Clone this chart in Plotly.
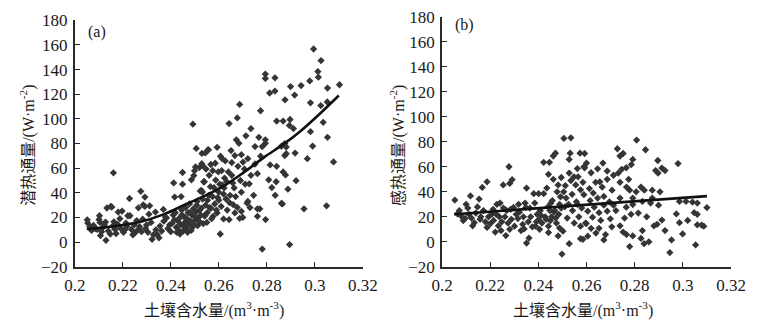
import plotly.graph_objects as go

# ---- panel (a): latent heat flux vs soil water content ----
a_x = [0.2052, 0.2054, 0.2063, 0.2070, 0.2078, 0.2085, 0.2093, 0.2101, 0.2103, 0.2105,
       0.2107, 0.2112, 0.2118, 0.2123, 0.2128, 0.2130, 0.2134, 0.2140, 0.2148, 0.2150,
       0.2154, 0.2158, 0.2161, 0.2163, 0.2168, 0.2172, 0.2178, 0.2181, 0.2188, 0.2192,
       0.2197, 0.2203, 0.2208, 0.2213, 0.2217, 0.2221, 0.2228, 0.2230, 0.2236, 0.2242,
       0.2248, 0.2252, 0.2258, 0.2265, 0.2265, 0.2270, 0.2275, 0.2278, 0.2283, 0.2285,
       0.2292, 0.2292, 0.2295, 0.2299, 0.2305, 0.2309, 0.2312, 0.2318, 0.2322, 0.2328,
       0.2336, 0.2338, 0.2344, 0.2351, 0.2355, 0.2362, 0.2369, 0.2371, 0.2378, 0.2382,
       0.2388, 0.2395, 0.2400, 0.2405, 0.2410, 0.2412, 0.2416, 0.2419, 0.2423, 0.2428,
       0.2432, 0.2436, 0.2440, 0.2443, 0.2445, 0.2449, 0.2449, 0.2452, 0.2455, 0.2458,
       0.2462, 0.2465, 0.2468, 0.2472, 0.2475, 0.2478, 0.2482, 0.2486, 0.2488, 0.2490,
       0.2492, 0.2494, 0.2496, 0.2499, 0.2500, 0.2503, 0.2505, 0.2506, 0.2508, 0.2512,
       0.2515, 0.2519, 0.2520, 0.2523, 0.2527, 0.2527, 0.2529, 0.2530, 0.2532, 0.2533,
       0.2533, 0.2537, 0.2540, 0.2540, 0.2543, 0.2544, 0.2547, 0.2550, 0.2553, 0.2555,
       0.2557, 0.2560, 0.2562, 0.2567, 0.2567, 0.2570, 0.2574, 0.2576, 0.2580, 0.2583,
       0.2587, 0.2590, 0.2593, 0.2593, 0.2596, 0.2600, 0.2600, 0.2604, 0.2606, 0.2607,
       0.2610, 0.2614, 0.2614, 0.2620, 0.2620, 0.2624, 0.2627, 0.2630, 0.2633, 0.2640,
       0.2643, 0.2643, 0.2647, 0.2651, 0.2654, 0.2654, 0.2660, 0.2664, 0.2667, 0.2667,
       0.2673, 0.2677, 0.2677, 0.2680, 0.2684, 0.2687, 0.2687, 0.2690, 0.2694, 0.2694,
       0.2694, 0.2701, 0.2707, 0.2713, 0.2718, 0.2721, 0.2721, 0.2727, 0.2734, 0.2734,
       0.2745, 0.2751, 0.2751, 0.2761, 0.2761, 0.2761, 0.2767, 0.2771, 0.2774, 0.2774,
       0.2781, 0.2781, 0.2794, 0.2794, 0.2794, 0.2794, 0.2795, 0.2808, 0.2812, 0.2814,
       0.2821, 0.2834, 0.2834, 0.2835, 0.2839, 0.2841, 0.2841, 0.2861, 0.2861, 0.2865,
       0.2868, 0.2868, 0.2875, 0.2875, 0.2876, 0.2878, 0.2881, 0.2881, 0.2888, 0.2894,
       0.2895, 0.2897, 0.2899, 0.2911, 0.2916, 0.2918, 0.2922, 0.2943, 0.2955, 0.2969,
       0.2979, 0.2982, 0.2982, 0.2991, 0.2995, 0.3013, 0.3015, 0.3025, 0.3026, 0.3035,
       0.3049, 0.3052, 0.3053, 0.3053, 0.3078, 0.3103,
       0.2415, 0.2425, 0.2438, 0.2446, 0.2452, 0.2460, 0.2470, 0.2480, 0.2485, 0.2495,
       0.2502, 0.2510, 0.2518, 0.2525, 0.2535, 0.2545, 0.2552, 0.2558, 0.2565, 0.2575,
       0.2585, 0.2598, 0.2612, 0.2622, 0.2635, 0.2645, 0.2658, 0.2670, 0.2700, 0.2710,
       0.2730]
a_y = [18.1, 15.5, 12.5, 9.5, 13.5, 11.0, 10.3, 18.3, 21.4, 16.0,
       5.3, 8.5, 12.0, 14.0, 16.3, 1.5, 27.7, 9.0, 6.5, 29.0,
       28.5, 13.0, 56.2, 16.5, 10.3, 7.0, 14.5, 24.4, 19.0, 11.0,
       25.2, 8.0, 9.9, 15.5, 12.7, 21.4, 35.4, 21.4, 10.3, 6.0,
       14.0, 7.8, 17.5, 27.8, 10.3, 12.5, 41.2, 8.5, 18.6, 30.3,
       36.6, 29.0, 11.0, 14.0, 8.0, 22.7, 29.5, 16.0, 2.3, 6.0,
       24.4, 10.0, 6.0, 3.5, 13.0, 9.0, 26.5, 17.0, 20.3, 19.6,
       11.0, 14.0, 8.5, 15.2, 22.0, 48.0, 36.6, 23.9, 12.0, 17.5,
       10.0, 19.5, 14.5, 37.0, 26.0, 56.5, 47.0, 21.0, 12.5, 16.0,
       28.0, 10.5, 19.0, 24.0, 14.0, 31.0, 17.0, 50.6, 22.0, 12.0,
       95.7, 27.0, 54.0, 58.0, 17.5, 61.0, 24.5, 76.0, 30.0, 13.5,
       20.0, 60.5, 26.0, 41.4, 42.0, 27.5, 63.7, 72.0, 40.6, 35.0,
       62.0, 49.0, 21.4, 49.0, 21.6, 72.4, 59.3, 16.0, 34.0, 75.0,
       74.8, 54.2, 28.0, 63.0, 27.5, 19.0, 37.0, 20.9, 44.3, 31.0,
       50.4, 26.0, 76.9, 23.7, 36.0, 40.5, 34.0, 47.0, 6.6, 69.7,
       29.0, 67.7, 46.5, 39.0, 18.8, 52.0, 65.9, 35.0, 49.0, 57.0,
       96.2, 18.3, 38.0, 74.3, 64.6, 54.2, 30.4, 44.0, 70.2, 23.7,
       83.0, 100.8, 28.2, 61.5, 80.2, 111.7, 19.3, 50.0, 71.0, 40.5,
       25.0, 65.0, 59.3, 86.3, 31.6, 67.7, 33.0, 47.3, 92.1, 54.2,
       38.0, 77.5, 63.4, 55.5, 27.0, 20.9, 85.0, 27.0, 106.6, 69.7,
       77.5, -5.6, 136.4, 132.8, 83.0, 80.2, 18.3, 50.6, 121.0, 62.6,
       44.3, 133.3, 122.6, 38.0, 49.0, 98.2, 61.5, 77.8, 31.5, 31.0,
       98.2, 57.0, 80.0, 70.2, 115.5, 54.5, 77.2, 71.8, 43.0, 94.7,
       -2.0, 99.5, 126.2, 92.1, 119.3, 72.3, 49.9, 127.0, 27.0, 67.7,
       130.8, 113.0, 89.6, 77.9, 156.7, 138.4, 133.8, 110.8, 147.3, 97.2,
       29.5, 113.7, 125.0, 85.0, 65.1, 127.7,
       18.0, 8.0, 6.5, 22.0, 9.0, 20.0, 8.0, 24.0, 9.5, 14.0,
       20.0, 33.0, 17.0, 22.0, 15.0, 30.0, 24.0, 38.0, 45.0, 58.0,
       64.0, 57.0, 58.0, 44.0, 26.0, 32.0, 48.0, 37.0, 20.0, 47.0,
       28.0]

# trend curve for panel (a)
a_fit_x = [0.205, 0.215, 0.227, 0.237, 0.246, 0.254, 0.262, 0.270, 0.279, 0.287, 0.294, 0.302, 0.310]
a_fit_y = [10.7, 12.5, 16.3, 22.5, 30.5, 37.5, 45.5, 56.0, 69.0, 79.5, 90.0, 104.0, 119.0]

# ---- panel (b): sensible heat flux vs soil water content ----
b_x = [0.2053, 0.2064, 0.2072, 0.2080, 0.2088, 0.2096, 0.2100, 0.2107, 0.2112, 0.2118,
       0.2122, 0.2127, 0.2134, 0.2140, 0.2147, 0.2154, 0.2158, 0.2161, 0.2167, 0.2172,
       0.2180, 0.2187, 0.2187, 0.2193, 0.2201, 0.2207, 0.2214, 0.2221, 0.2228, 0.2234,
       0.2238, 0.2241, 0.2248, 0.2254, 0.2261, 0.2268, 0.2274, 0.2278, 0.2281, 0.2281,
       0.2288, 0.2291, 0.2297, 0.2301, 0.2308, 0.2315, 0.2321, 0.2328, 0.2335, 0.2341,
       0.2348, 0.2351, 0.2351, 0.2358, 0.2361, 0.2368, 0.2375, 0.2381, 0.2388, 0.2395,
       0.2401, 0.2401, 0.2408, 0.2415, 0.2422, 0.2422, 0.2428, 0.2435, 0.2440, 0.2442,
       0.2442, 0.2442, 0.2446, 0.2450, 0.2455, 0.2458, 0.2462, 0.2462, 0.2465, 0.2468,
       0.2471, 0.2475, 0.2478, 0.2482, 0.2482, 0.2485, 0.2488, 0.2488, 0.2492, 0.2495,
       0.2498, 0.2502, 0.2506, 0.2510, 0.2515, 0.2520, 0.2528, 0.2528, 0.2528, 0.2532,
       0.2535, 0.2535, 0.2540, 0.2542, 0.2549, 0.2555, 0.2558, 0.2562, 0.2562, 0.2568,
       0.2573, 0.2575, 0.2575, 0.2575, 0.2580, 0.2585, 0.2585, 0.2589, 0.2589, 0.2592,
       0.2592, 0.2596, 0.2599, 0.2605, 0.2605, 0.2612, 0.2615, 0.2619, 0.2619, 0.2625,
       0.2632, 0.2638, 0.2639, 0.2646, 0.2646, 0.2652, 0.2652, 0.2659, 0.2665, 0.2672,
       0.2672, 0.2672, 0.2679, 0.2686, 0.2686, 0.2686, 0.2699, 0.2706, 0.2712, 0.2712,
       0.2728, 0.2739, 0.2739, 0.2739, 0.2739, 0.2746, 0.2752, 0.2752, 0.2765, 0.2765,
       0.2766, 0.2766, 0.2779, 0.2779, 0.2786, 0.2792, 0.2792, 0.2792, 0.2792, 0.2806,
       0.2808, 0.2826, 0.2826, 0.2832, 0.2832, 0.2839, 0.2840, 0.2845, 0.2859, 0.2866,
       0.2873, 0.2873, 0.2880, 0.2887, 0.2893, 0.2896, 0.2897, 0.2899, 0.2913, 0.2913,
       0.2926, 0.2926, 0.2946, 0.2953, 0.2973, 0.2980, 0.2986, 0.2986, 0.2999, 0.3013,
       0.3020, 0.3040, 0.3047, 0.3053, 0.3060, 0.3060, 0.3060, 0.3078, 0.3087, 0.3100,
       0.2212, 0.2225, 0.2245, 0.2255, 0.2265, 0.2285, 0.2318, 0.2338, 0.2345, 0.2365,
       0.2385, 0.2392, 0.2405, 0.2412, 0.2432, 0.2448, 0.2452, 0.2472, 0.2495, 0.2505,
       0.2512, 0.2525, 0.2548, 0.2565, 0.2600, 0.2628, 0.2655, 0.2668, 0.2695, 0.2705,
       0.2722, 0.2732, 0.2758, 0.2775, 0.2785, 0.2815, 0.2850, 0.2905]
b_y = [33.4, 22.4, 25.0, 20.5, 17.0, 18.7, 30.0, 27.0, 22.0, 36.7,
       19.0, 12.8, 15.3, 23.0, 27.9, 34.2, 18.0, 20.0, 43.5, 25.0,
       16.0, 48.0, 11.5, 20.0, 14.6, 22.1, 17.1, 7.8, 30.0, 12.8,
       20.0, 31.0, 16.0, 45.5, 20.0, 25.0, 15.0, 60.1, 46.7, 10.0,
       18.0, 49.7, 27.5, 12.5, 22.0, 18.6, 23.7, 9.0, 14.0, 10.3,
       27.5, 43.0, -1.0, 16.0, 3.0, 20.0, 12.0, 38.5, 12.5, 22.0,
       38.5, 17.5, 25.0, 15.0, 38.5, 63.6, 20.0, 43.0, 28.0, 54.0,
       12.5, 7.4, 63.6, 17.0, 20.0, 33.0, 68.7, 50.0, 24.0, 25.0,
       71.0, 15.0, 40.0, 45.5, 4.7, 22.0, 30.0, 11.0, 36.0, 51.5,
       -9.8, 8.5, 82.8, 28.0, 35.0, 19.0, 66.0, 55.0, -1.5, 71.0,
       83.3, 49.0, 38.0, 25.0, 15.0, 45.5, 32.0, 58.6, 30.0, 20.0,
       71.0, 41.6, 12.5, 2.5, 27.0, 47.6, 2.0, 60.0, 37.7, 70.7,
       59.3, 15.0, 14.6, 24.5, 4.5, 42.6, 33.0, 55.3, 10.8, 19.7,
       27.7, 47.6, 7.0, 58.4, 35.0, 23.3, 10.8, 17.1, 43.8, 36.3,
       29.3, 1.5, 5.8, 56.6, 50.0, 24.5, 18.4, 41.3, 53.3, 29.3,
       74.5, 68.7, 47.6, 35.0, 12.8, 58.0, 70.7, 7.8, 59.3, 27.7,
       43.8, 5.8, 41.3, -3.8, 61.8, 66.0, 35.0, 29.8, 4.7, 40.0,
       81.5, 43.8, 2.7, 32.3, 9.0, -1.5, 41.3, 73.7, 0.0, 31.0,
       41.3, 35.0, 12.8, 57.0, 14.0, 65.1, 55.0, 29.3, 59.0, 17.4,
       57.0, 9.0, -8.6, 1.5, 22.3, 62.6, 32.3, 15.3, 6.3, 32.3,
       17.1, 31.8, 23.3, -2.5, 13.6, 22.0, 31.0, 13.4, 12.5, 27.4,
       26.0, 22.0, 9.0, 27.0, 5.0, 26.0, 30.0, 20.0, 31.0, 27.0,
       31.0, 16.0, 10.0, 21.0, 18.0, 25.0, 31.0, 19.0, 27.0, 40.0,
       45.0, 30.0, 52.0, 52.0, 63.0, 39.0, 48.0, 63.0, 32.0, 12.0,
       25.0, 55.0, 19.0, 50.0, 22.0, 23.0, 20.0, 40.0]

# linear trend for panel (b)
b_fit_x = [0.205, 0.310]
b_fit_y = [22.1, 36.6]

# axis ticks
x_ticks = [0.2, 0.22, 0.24, 0.26, 0.28, 0.3, 0.32]
x_tick_text = ["0.2", "0.22", "0.24", "0.26", "0.28", "0.3", "0.32"]
y_ticks = [-20, 0, 20, 40, 60, 80, 100, 120, 140, 160, 180]

SERIF = "Liberation Serif, Times New Roman, Noto Sans CJK SC, serif"
MARK = "#353535"
W, H = 775, 321

fig = go.Figure()
for xs, ys, fx, fy, ax in [(a_x, a_y, a_fit_x, a_fit_y, ""), (b_x, b_y, b_fit_x, b_fit_y, "2")]:
    fig.add_trace(go.Scatter(x=xs, y=ys, mode="markers", xaxis="x" + ax, yaxis="y" + ax,
                             marker=dict(symbol="diamond", size=5.6, color=MARK, line=dict(width=0)),
                             showlegend=False, hoverinfo="skip"))
    fig.add_trace(go.Scatter(x=fx, y=fy, mode="lines", xaxis="x" + ax, yaxis="y" + ax,
                             line=dict(color="#111111", width=2.6, shape="spline", smoothing=1.0),
                             showlegend=False, hoverinfo="skip"))

def px_x(p):
    return p / W

def px_y(p):
    return 1 - p / H

axis_common = dict(showgrid=False, zeroline=False, showline=True, linecolor="#2a2a2a", linewidth=1.6,
                   ticks="inside", ticklen=5, tickwidth=1.4, tickcolor="#2a2a2a",
                   tickfont=dict(family=SERIF, size=17, color="#1a1a1a"), mirror=False)

fig.update_layout(
    width=W, height=H, margin=dict(l=0, r=0, t=0, b=0),
    paper_bgcolor="white", plot_bgcolor="white",
    xaxis=dict(domain=[px_x(66), px_x(364)], range=[0.2, 0.32], tickvals=x_ticks, ticktext=x_tick_text,
               anchor="y", ticklabelstandoff=2, **axis_common),
    yaxis=dict(domain=[px_y(274), px_y(12)], range=[-20, 180], tickvals=y_ticks,
               anchor="x", ticklabelstandoff=2, **axis_common),
    xaxis2=dict(domain=[px_x(446), px_x(745)], range=[0.2, 0.32], tickvals=x_ticks, ticktext=x_tick_text,
                anchor="y2", ticklabelstandoff=2, **axis_common),
    yaxis2=dict(domain=[px_y(274), px_y(8.5)], range=[-20, 180], tickvals=y_ticks,
                anchor="x2", ticklabelstandoff=2, **axis_common),
)

title_font = dict(family=SERIF, size=16, color="#1a1a1a")
annots = [
    dict(text="(a)", x=px_x(89), y=px_y(24), yanchor="middle"),
    dict(text="(b)", x=px_x(469), y=px_y(17), yanchor="middle"),
    dict(text="土壤含水量/(m<sup>3</sup>·m<sup>-3</sup>)", x=px_x(210), y=px_y(310), yanchor="middle", yshift=-9),
    dict(text="土壤含水量/(m<sup>3</sup>·m<sup>-3</sup>)", x=px_x(592), y=px_y(310), yanchor="middle", yshift=-9),
    dict(text="潜热通量/(W·m<sup>-2</sup>)", x=px_x(17), y=px_y(145), yanchor="middle", textangle=-90),
    dict(text="感热通量/(W·m<sup>-2</sup>)", x=px_x(400), y=px_y(145), yanchor="middle", textangle=-90),
]
for a in annots:
    fig.add_annotation(xref="paper", yref="paper", showarrow=False, font=title_font,
                       xanchor="center", borderpad=0, **a)

fig.write_html("out.html")
